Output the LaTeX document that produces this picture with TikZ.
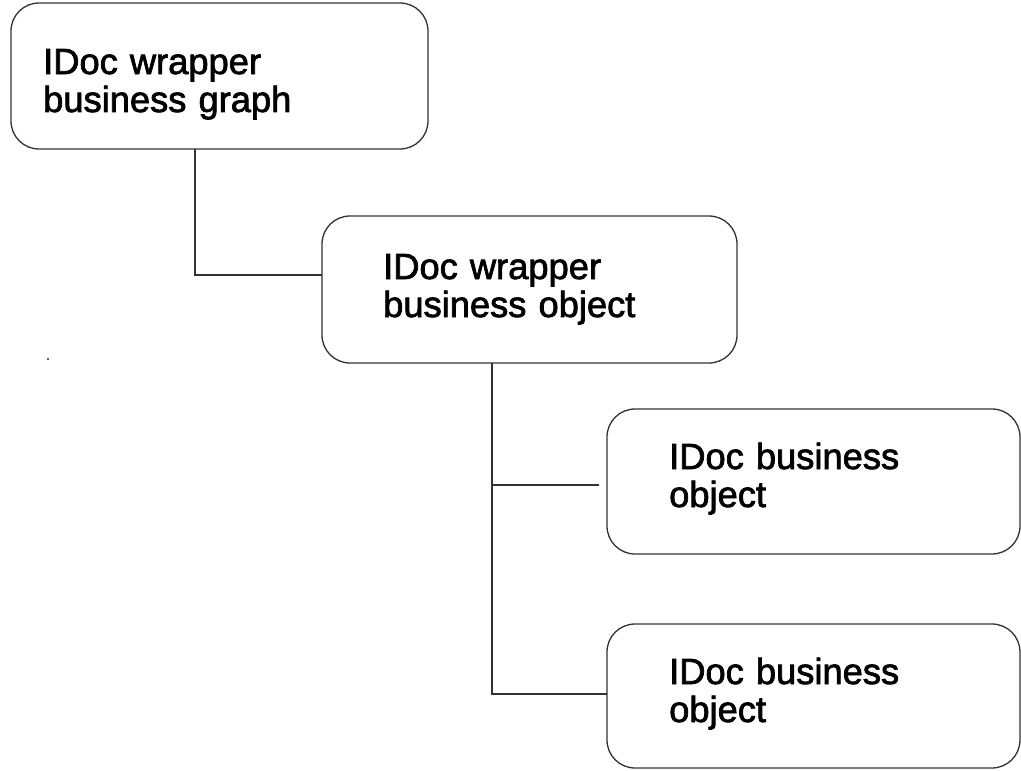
\documentclass[tikz,border=0pt]{standalone}
\usepackage{fontspec}
\setmainfont{Liberation Sans}
\newfontfamily\boxfont{Liberation Sans}[FakeBold=2]
\begin{document}
\begin{tikzpicture}[x=1pt,y=-1pt,
  box/.style={draw=black!80, line width=1.3pt, rounded corners=28pt,
    anchor=north west, inner sep=0pt, outer sep=0pt},
  label/.style={anchor=base west, inner sep=0pt, text width=400pt, align=left,
    font=\boxfont\fontsize{36.3}{38}\selectfont},
  wire/.style={draw=black!80, line width=1.3pt}]
  \useasboundingbox (0,0) rectangle (1021,771);

  % boxes
  \node[box, minimum width=417pt, minimum height=146pt] (b1) at (11,3) {};
  \node[box, minimum width=415pt, minimum height=147pt] (b2) at (322,216) {};
  \node[box, minimum width=413pt, minimum height=145pt] (b3) at (607,409) {};
  \node[box, minimum width=413pt, minimum height=144pt] (b4) at (607,624) {};

  % labels
  \node[label] (t1) at (43,74)   {IDoc wrapper\\business graph};
  \node[label] (t2) at (383,279) {IDoc wrapper\\business object};
  \node[label] (t3) at (669,469) {IDoc business\\object};
  \node[label] (t4) at (669,684) {IDoc business\\object};

  % elbow points of the tree lines
  \coordinate (j1) at (195,275);
  \coordinate (j2) at (492,694);
  \coordinate (e3) at (599,485);

  \draw[wire] (b1.south -| j1) |- (b2.west |- j1);
  \draw[wire] (b2.south -| j2) -- (j2) -- (b4.west |- j2);
  \draw[wire] (e3 -| j2) -- (e3);

  % small speck on the left
  \fill[black!60] (47,358) rectangle (49,360);
\end{tikzpicture}
\end{document}
